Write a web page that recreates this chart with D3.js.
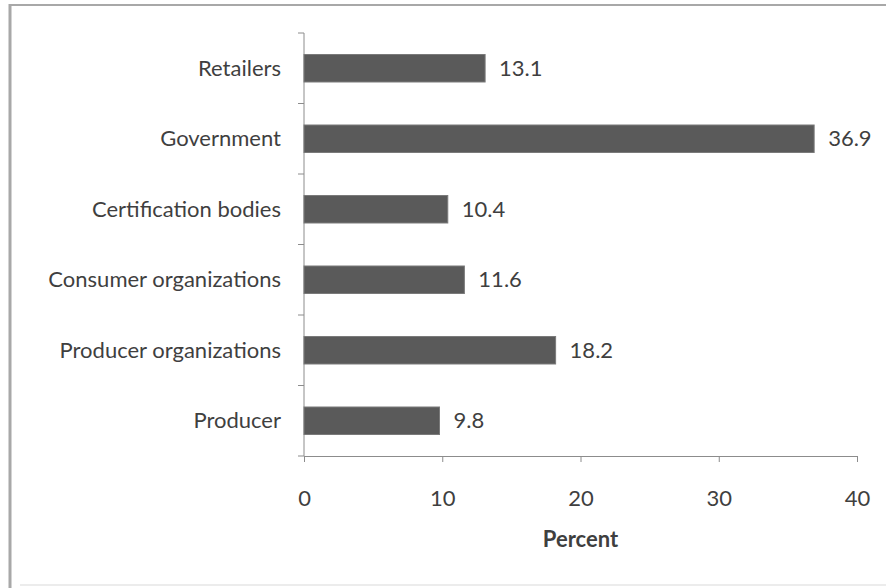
<!DOCTYPE html>
<meta charset="utf-8">
<script src="https://d3js.org/d3.v7.min.js"></script>
<style>
  body { margin: 0; background: #fff; }
  text { font-family: Lato, "Open Sans", sans-serif; fill: #3f3f3f; }
</style>
<div id="my_dataviz"></div>
<script>

  // data
  var categories = ["Retailers", "Government", "Certification bodies", "Consumer organizations", "Producer organizations", "Producer"]
  var values = [13.1, 36.9, 10.4, 11.6, 18.2, 9.8]
  var xTicks = [0, 10, 20, 30, 40]
  var xTitle = "Percent"

  var W = 886, H = 588
  var margin = {top: 33, right: 29, bottom: 132, left: 304},
      width = W - margin.left - margin.right,
      height = H - margin.top - margin.bottom;

  var root = d3.select("#my_dataviz")
    .append("svg")
      .attr("width", W)
      .attr("height", H)

  // picture frame (left and top darker, bottom faint)
  root.append("rect")
    .attr("x", 0).attr("y", 0).attr("width", W).attr("height", H)
    .attr("fill", "#fff")
  root.append("line").attr("x1", 10).attr("x2", 10).attr("y1", 4).attr("y2", H)
    .attr("stroke", "#a8a8a8").attr("stroke-width", 3)
  root.append("line").attr("x1", 9).attr("x2", W).attr("y1", 5).attr("y2", 5)
    .attr("stroke", "#a8a8a8").attr("stroke-width", 2)
  root.append("line").attr("x1", 20).attr("x2", W).attr("y1", 585).attr("y2", 585)
    .attr("stroke", "#ececec").attr("stroke-width", 2)

  var svg = root.append("g")
      .attr("transform", "translate(" + margin.left + "," + margin.top + ")");

  var x = d3.scaleLinear()
    .domain([0, 40])
    .range([0, width]);

  var y = d3.scaleBand()
    .domain(categories)
    .range([0, height])
    .paddingInner(0.61)
    .paddingOuter(0.305);

  // x axis
  var xAxis = svg.append("g")
    .attr("transform", "translate(0," + height + ")")
    .call(d3.axisBottom(x).tickValues(xTicks).tickSize(6).tickPadding(28).tickSizeOuter(0))
  xAxis.selectAll("text").style("font-size", "22px").attr("fill", "#3f3f3f")

  // y axis with ticks between categories
  svg.append("line")
    .attr("x1", 0).attr("x2", 0).attr("y1", 0).attr("y2", height)
    .attr("stroke", "#8c8c8c")
  svg.selectAll(".ytick")
    .data(d3.range(categories.length + 1))
    .enter()
    .append("line")
      .attr("x1", -6).attr("x2", 0)
      .attr("y1", function(i){ return i * height / categories.length })
      .attr("y2", function(i){ return i * height / categories.length })
      .attr("stroke", "#8c8c8c")
  xAxis.selectAll("line, path").attr("stroke", "#8c8c8c")

  svg.selectAll(".cat")
    .data(categories)
    .enter()
    .append("text")
      .attr("x", -23)
      .attr("y", function(d){ return y(d) + y.bandwidth() / 2 })
      .attr("dy", "0.35em")
      .attr("text-anchor", "end")
      .style("font-size", "22px")
      .text(function(d){ return d })

  // bars
  svg.selectAll(".bar")
    .data(values)
    .enter()
    .append("rect")
      .attr("x", x(0))
      .attr("y", function(d, i){ return y(categories[i]) })
      .attr("width", function(d){ return x(d) - x(0) })
      .attr("height", y.bandwidth())
      .attr("fill", "#5a5a5a")
      .attr("stroke", "#7a7a7a")
      .attr("stroke-width", 1)

  // value labels
  svg.selectAll(".val")
    .data(values)
    .enter()
    .append("text")
      .attr("x", function(d){ return x(d) + 14 })
      .attr("y", function(d, i){ return y(categories[i]) + y.bandwidth() / 2 })
      .attr("dy", "0.35em")
      .style("font-size", "22px")
      .text(function(d){ return d.toFixed(1) })

  // axis title
  svg.append("text")
    .attr("x", width / 2)
    .attr("y", height + 91)
    .attr("text-anchor", "middle")
    .style("font-size", "22px")
    .style("font-weight", "bold")
    .text(xTitle)

</script>
